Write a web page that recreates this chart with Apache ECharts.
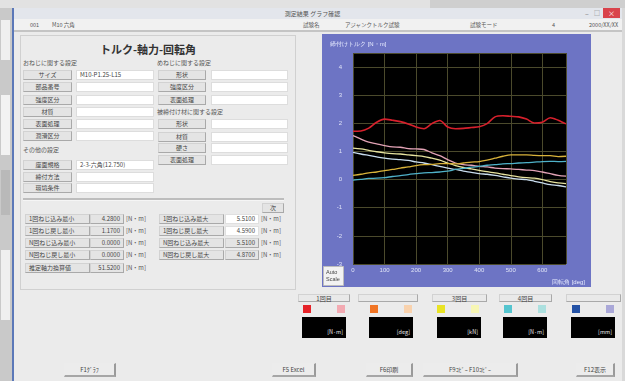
<!DOCTYPE html>
<html><head><meta charset="utf-8">
<script src="https://cdn.jsdelivr.net/npm/echarts/dist/echarts.min.js"></script>
<style>
body{margin:0;width:625px;height:381px;overflow:hidden;background:#d9d9d9;font-family:"Noto Sans CJK JP","Noto Sans",sans-serif;}
#app{position:relative;width:625px;height:381px;overflow:hidden;}
.a{position:absolute;box-sizing:border-box;}
.btn{position:absolute;box-sizing:border-box;background:#e4e4e4;border:1px solid #d2d2d2;border-right-color:#a9a9a9;border-bottom-color:#a9a9a9;font-size:6px;color:#444;text-align:center;white-space:nowrap;}
.fld{position:absolute;box-sizing:border-box;background:#fff;border:1px solid #dddddd;font-size:6px;color:#444;padding-left:3px;white-space:nowrap;}
.lbl{position:absolute;font-size:6px;color:#555;white-space:nowrap;}
</style></head>
<body><div id="app">
  <!-- neighbouring window on the left and desktop strip at the top -->
  <div class="a" style="left:0;top:0;width:625px;height:8px;background:#e2e2e2"></div>
  <div class="a" style="left:430px;top:0;width:195px;height:8px;background:#cfcfcf"></div>
  <div class="a" style="left:0;top:8px;width:12px;height:373px;background:#c9c9c9"></div>
  <div class="a" style="left:1px;top:20px;width:9px;height:40px;background:#efefef"></div>
  <div class="a" style="left:1px;top:95px;width:9px;height:60px;background:#f2f2f2"></div>
  <div class="a" style="left:1px;top:170px;width:9px;height:45px;background:#b9b9b9"></div>
  <div class="a" style="left:1px;top:250px;width:9px;height:70px;background:#efefef"></div>

  <!-- application window -->
  <div class="a" style="left:12px;top:8px;width:610px;height:373px;background:#ebebeb;border-left:2px solid #5b78b8"></div>
  <div class="a" style="left:14px;top:8px;width:608px;height:11px;background:#e3e6ec"></div>
  <div class="lbl" style="left:0;top:9px;width:625px;text-align:center;font-size:6px;color:#555" id="ttl"></div>
  <div class="a" style="left:582px;top:9px;width:10px;height:9px;font-size:7px;color:#777;line-height:8px;text-align:center">–</div>
  <div class="a" style="left:592px;top:9px;width:10px;height:9px;font-size:6px;color:#777;line-height:8px;text-align:center">□</div>
  <div class="a" style="left:603px;top:8px;width:17px;height:10px;background:#d9434b;color:#fff;font-size:7px;line-height:10px;text-align:center">×</div>
  <div class="a" style="left:14px;top:19px;width:608px;height:13px;background:#f1f1f1;border-bottom:2px solid #c4c4c4"></div>
  <div id="hdr"></div>

  <!-- settings panel -->
  <div class="a" style="left:20px;top:35px;width:276px;height:255px;border:1px solid #d0d0d0;background:#ebebeb"></div>
  <div class="lbl" style="left:20px;top:41px;width:256px;text-align:center;font-size:11px;font-weight:bold;color:#333" id="mainTitle"></div>
  <div id="form"></div>

  <!-- chart -->
  <div id="chart" class="a" style="left:322px;top:34px;width:269px;height:253px"></div>

  <div id="legend"></div>
  <div id="fkeys"></div>
</div>
<script>
// ---- chart data ----
const angle = [0,25,50,75,100,125,150,175,200,225,250,275,300,325,350,375,400,425,450,475,500,525,550,575,600,625,650,675];
const torque1 = [1.72,1.73,1.83,2.04,2.15,2.11,2.06,1.98,1.87,1.81,1.99,2.10,1.87,1.81,1.82,1.85,1.88,1.99,2.23,2.27,2.25,2.23,2.15,2.01,2.04,2.20,2.11,1.98];
const torque1b = [1.56,1.44,1.33,1.27,1.21,1.16,1.15,1.10,1.09,1.07,0.95,0.85,0.71,0.59,0.53,0.51,0.47,0.45,0.41,0.39,0.38,0.36,0.34,0.32,0.27,0.21,0.15,0.12];
const torque3b = [1.12,1.09,1.04,0.99,0.95,0.92,0.91,0.88,0.85,0.82,0.76,0.69,0.59,0.50,0.43,0.38,0.33,0.28,0.24,0.19,0.14,0.10,0.07,0.05,0.00,-0.07,-0.12,-0.14];
const torque4b = [0.97,0.91,0.86,0.81,0.76,0.73,0.71,0.68,0.63,0.59,0.53,0.47,0.41,0.36,0.30,0.26,0.21,0.19,0.15,0.10,0.05,0.02,0.00,-0.06,-0.12,-0.18,-0.21,-0.26];
const torque3 = [0.15,0.19,0.24,0.27,0.32,0.36,0.41,0.45,0.50,0.53,0.54,0.57,0.57,0.56,0.59,0.62,0.64,0.69,0.76,0.83,0.88,0.88,0.88,0.86,0.85,0.85,0.82,0.83];
const torque4 = [-0.02,0.01,0.04,0.05,0.07,0.11,0.14,0.18,0.21,0.24,0.25,0.27,0.30,0.36,0.40,0.44,0.47,0.51,0.53,0.56,0.57,0.59,0.60,0.62,0.64,0.65,0.64,0.65];
const xTicks = [0,100,200,300,400,500,600];
const yTicks = [-3,-2,-1,0,1,2,3,4];

// ---- form texts ----
const windowTitle = '測定結果 グラフ確認';
const headerItems = [['001',30],['M10 六角',52],['試験名',303],['アジャンクトルク試験',345],['試験モード',470],['4',552],['2000/XX/XX',589]];
const boltItems = ['サイズ','部品番号','強度区分','材質','表面処理','潤滑区分'];
const boltValues = ['M10-P1.25-L15','','','','',''];
const otherItems = ['座面規格','締付方法','環境条件'];
const otherValues = ['2-3-六角(12.750)','',''];
const nutItems = ['形状','強度区分','表面処理'];
const memberItems = ['形状','材質','硬さ','表面処理'];
const statLeft = ['1回ねじ込み最小','1回ねじ戻し最小','N回ねじ込み最小','N回ねじ戻し最小','推定軸力換算値'];
const statLeftVal = ['4.2800','1.1700','0.0000','0.0000','51.5200'];
const statRight = ['1回ねじ込み最大','1回ねじ戻し最大','N回ねじ込み最大','N回ねじ戻し最大'];
const statRightVal = ['5.5100','4.5900','5.5100','4.8700'];
const groupNames = ['1回目','','3回目','4回目',''];
const groupUnits = ['[N·m]','[deg]','[kN]','[N·m]','[mm]'];
const groupColors = [['#e52228','#f3aab2'],['#f07424','#f9d2ad'],['#e9e324','#f7f6b4'],['#55c5cf','#ace0df'],['#2452a6','#aaa8d8']];
const fkeys = [['F1ｸﾞﾗﾌ',64,116],['F5 Excel',272,316],['F6印刷',366,413],['F9ｺﾋﾟｰ   F10ｺﾋﾟｰ',423,518],['F12表示',576,615]];

function el(parent, cls, style, text){
  const d = document.createElement('div');
  d.className = cls; d.style.cssText = style; if (text !== undefined) d.textContent = text;
  parent.appendChild(d); return d;
}
const app = document.getElementById('app');
document.getElementById('ttl').textContent = windowTitle;
document.getElementById('mainTitle').textContent = 'トルク-軸力-回転角';
headerItems.forEach(([t,x]) => el(app,'lbl',`left:${x}px;top:21px;color:#555;font-size:5.5px`,t));

function row(btnX, btnW, fldX, fldW, y, name, val){
  el(app,'btn',`left:${btnX}px;top:${y-5}px;width:${btnW}px;height:10px;line-height:8px`,name);
  el(app,'fld',`left:${fldX}px;top:${y-5}px;width:${fldW}px;height:10px;line-height:8px`,val);
}
el(app,'lbl','left:23px;top:58px','おねじに関する設定');
boltItems.forEach((n,i)=>row(23,49,76,78,[75,87,100,112,124,136][i],n,boltValues[i]));
el(app,'lbl','left:23px;top:145px','その他の設定');
otherItems.forEach((n,i)=>row(23,49,76,78,[165,177,188][i],n,otherValues[i]));
el(app,'lbl','left:157px;top:58px','めねじに関する設定');
nutItems.forEach((n,i)=>row(158,48,211,77,[75,87,100][i],n,''));
el(app,'lbl','left:157px;top:107px','被締付け材に関する設定');
memberItems.forEach((n,i)=>row(158,48,211,77,[124,137,148,160][i],n,''));

el(app,'a','left:23px;top:198px;width:261px;height:3px;background:#bdbdbd;border-bottom:1px solid #f5f5f5');
el(app,'btn','left:262px;top:203px;width:22px;height:10px;line-height:8px','次');
const ys = [219,231,243,255,268];
statLeft.forEach((n,i)=>{
  el(app,'btn',`left:25px;top:${ys[i]-5}px;width:65px;height:10px;line-height:8px;text-align:left;padding-left:3px`,n);
  el(app,'btn',`left:90px;top:${ys[i]-5}px;width:34px;height:10px;line-height:8px;text-align:right;padding-right:3px`,statLeftVal[i]);
  el(app,'lbl',`left:126px;top:${ys[i]-5}px`,'[N・m]');
});
statRight.forEach((n,i)=>{
  el(app,'btn',`left:159px;top:${ys[i]-5}px;width:65px;height:10px;line-height:8px;text-align:left;padding-left:3px`,n);
  const bg = i < 2 ? 'background:#fff;border-color:#e0e0e0;' : '';
  el(app,'btn',`left:225px;top:${ys[i]-5}px;width:34px;height:10px;line-height:8px;text-align:right;padding-right:3px;${bg}`,statRightVal[i]);
  el(app,'lbl',`left:261px;top:${ys[i]-5}px`,'[N・m]');
});

// legend blocks under the chart
const gx = [[298,350],[358,418],[432,487],[499,552],[566,621]];
const sq = [[303,337],[370,404],[437,471],[504,538],[572,606]];
const bx = [[302,346],[369,413],[437,481],[503,547],[571,615]];
groupNames.forEach((n,i)=>{
  el(app,'btn',`left:${gx[i][0]}px;top:294px;width:${gx[i][1]-gx[i][0]}px;height:8px;line-height:7px;background:#e9e9e9`,n);
  el(app,'a',`left:${sq[i][0]}px;top:305px;width:8px;height:8px;background:${groupColors[i][0]}`);
  el(app,'a',`left:${sq[i][1]}px;top:305px;width:8px;height:8px;background:${groupColors[i][1]}`);
  const b = el(app,'a',`left:${bx[i][0]}px;top:317px;width:${bx[i][1]-bx[i][0]}px;height:21px;background:#000`);
  el(b,'lbl','right:3px;bottom:2px;color:#e8e8e8;font-size:5.5px',groupUnits[i]);
});
fkeys.forEach(([t,x0,x1])=>{
  el(app,'btn',`left:${x0}px;top:363px;width:${x1-x0}px;height:14px;line-height:12px;background:#ececec;border-color:#ececec;border-right:2px solid #9a9a9a;border-bottom:2px solid #a6a6a6`,t);
});

// ---- torque chart ----
const chart = echarts.init(document.getElementById('chart'));
const mk = (name, data, color, w) => ({
  name, type:'line', data: angle.map((a,i)=>[a,data[i]]), showSymbol:false, smooth:0.3,
  lineStyle:{color, width:w}, itemStyle:{color}, silent:true
});
chart.setOption({
  backgroundColor:'#6d74c4',
  animation:false,
  title:{text:'締付けトルク [N・m]', left:3, top:2, textStyle:{color:'#e8ecff', fontSize:6, fontWeight:'normal'}},
  grid:{left:31, right:25, top:19, bottom:23, show:true, backgroundColor:'#000', borderWidth:0},
  xAxis:{type:'value', min:0, max:675, interval:100,
    axisLine:{show:false}, axisTick:{show:false},
    axisLabel:{color:'#dfe3f7', fontSize:6, margin:3, showMaxLabel:false,
      formatter:v => xTicks.includes(v) ? String(v) : ''},
    splitLine:{lineStyle:{color:'#4b4a2c', width:1}}},
  yAxis:{type:'value', min:-3, max:4.5, interval:1,
    axisLine:{show:false}, axisTick:{show:false},
    axisLabel:{color:'#dfe3f7', fontSize:6, margin:11, showMaxLabel:false,
      formatter:v => yTicks.includes(v) ? String(v) : ''},
    splitLine:{lineStyle:{color:'#4b4a2c', width:1}}},
  graphic:[
    {type:'text', right:6, bottom:2, style:{text:'回転角 [deg]', fill:'#e8ecff', fontSize:6}},
    {type:'rect', left:1, bottom:1, shape:{width:20, height:19}, style:{fill:'#f2f2f2', stroke:'#bdbdbd'}},
    {type:'text', left:4, bottom:4, style:{text:'Auto\nScale', fill:'#444', fontSize:5.5, align:'center', lineHeight:7}}
  ],
  series:[
    mk('1回目 ねじ込み', torque1, '#d7202c', 1.6),
    mk('1回目 ねじ戻し', torque1b, '#e3a3b6', 1.3),
    mk('3回目 ねじ戻し', torque3b, '#e7e39f', 1.3),
    mk('4回目 ねじ戻し', torque4b, '#c8dcee', 1.3),
    mk('3回目 ねじ込み', torque3, '#d9b33a', 1.3),
    mk('4回目 ねじ込み', torque4, '#4fb2c9', 1.3)
  ]
});
</script>
</body></html>
